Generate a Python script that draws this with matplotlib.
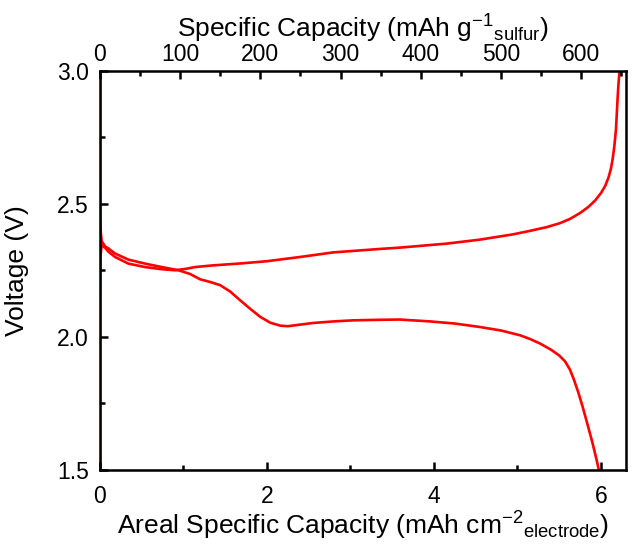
import matplotlib.pyplot as plt
import numpy as np

plt.rcParams['font.family'] = ['Liberation Sans', 'DejaVu Sans']
plt.rcParams['mathtext.default'] = 'regular'

# descarga (discharge) - capacidade areal (mAh cm-2) e tensao (V)
cap_descarga = [0.0, 0.0, 0.003, 0.01, 0.02, 0.06, 0.10, 0.18, 0.34, 0.54, 0.74, 0.94,
                1.08, 1.20, 1.32, 1.44, 1.56, 1.68, 1.80, 1.92, 2.04, 2.16, 2.25, 2.40,
                2.55, 2.80, 3.03, 3.35, 3.59, 3.95, 4.25, 4.55, 4.80, 5.03, 5.15, 5.27,
                5.40, 5.50, 5.57, 5.63, 5.68, 5.73, 5.78, 5.84, 5.90, 5.95, 6.00]
v_descarga = [3.00, 2.60, 2.45, 2.39, 2.36, 2.34, 2.332, 2.313, 2.29, 2.275, 2.262, 2.25,
              2.236, 2.216, 2.206, 2.194, 2.17, 2.137, 2.105, 2.075, 2.053, 2.042, 2.040, 2.046,
              2.052, 2.058, 2.062, 2.064, 2.065, 2.058, 2.050, 2.037, 2.024, 2.006, 1.992, 1.975,
              1.952, 1.930, 1.908, 1.876, 1.836, 1.790, 1.738, 1.670, 1.600, 1.535, 1.465]

# carga (charge)
cap_carga = [0.0, 0.0, 0.005, 0.02, 0.06, 0.10, 0.18, 0.34, 0.54, 0.74, 0.90, 1.02,
             1.14, 1.34, 1.70, 2.00, 2.40, 2.79, 3.35, 3.59, 4.15, 4.55, 4.95, 5.15,
             5.35, 5.51, 5.63, 5.75, 5.85, 5.93, 6.00, 6.05, 6.09, 6.12, 6.14, 6.16,
             6.18, 6.19, 6.20, 6.21, 6.22, 6.225]
v_carga = [1.45, 2.10, 2.30, 2.345, 2.335, 2.32, 2.30, 2.275, 2.262, 2.254, 2.25, 2.255,
           2.262, 2.268, 2.276, 2.284, 2.30, 2.317, 2.33, 2.335, 2.35, 2.365, 2.385, 2.398,
           2.412, 2.427, 2.443, 2.465, 2.488, 2.512, 2.540, 2.566, 2.598, 2.632, 2.668, 2.715,
           2.78, 2.84, 2.90, 2.95, 2.99, 3.02]

# eixo superior: mAh por grama de enxofre
fator = 656.0 / 6.30

fig = plt.figure(figsize=(6.34, 5.51), dpi=100)
ax = fig.add_axes([0.1577, 0.1470, 0.8297, 0.7250])

ax.plot(cap_descarga, v_descarga, color='#ff0000', linewidth=1.9)
ax.plot(cap_carga, v_carga, color='#ff0000', linewidth=1.9)

ax.set_xlim(0, 6.30)
ax.set_ylim(1.5, 3.0)
ax.set_xticks([0, 2, 4, 6])
ax.set_xticks([1, 3, 5], minor=True)
ax.set_yticks([1.5, 2.0, 2.5, 3.0])
ax.set_yticklabels(['1.5', '2.0', '2.5', '3.0'])
ax.set_yticks([1.75, 2.25, 2.75], minor=True)

for s in ax.spines.values():
    s.set_linewidth(1.8)

ax.tick_params(which='both', direction='in', top=False, right=False,
               labelsize=16.5, width=1.8)
ax.tick_params(which='major', length=6)
ax.tick_params(which='minor', length=3.5)
ax.tick_params(axis='y', pad=8)
ax.tick_params(axis='x', pad=11)

ax.set_xlabel('Areal Specific Capacity (mAh cm$^{-2}$$_{electrode}$)', fontsize=19, labelpad=1)
ax.set_ylabel('Voltage (V)', fontsize=19, labelpad=20)

ax2 = ax.twiny()
ax2.set_xlim(0, 6.30 * fator)
ax2.set_xticks(np.arange(0, 700, 100))
ax2.set_xticks(np.arange(50, 700, 100), minor=True)
ax2.tick_params(which='both', direction='in', labelsize=16.5, width=1.8, pad=3)
ax2.tick_params(which='major', length=6)
ax2.tick_params(which='minor', length=3.5)
ax2.set_xlabel('Specific Capacity (mAh g$^{-1}$$_{sulfur}$)', fontsize=19, labelpad=4)

fig.savefig('out.png', dpi=100)
